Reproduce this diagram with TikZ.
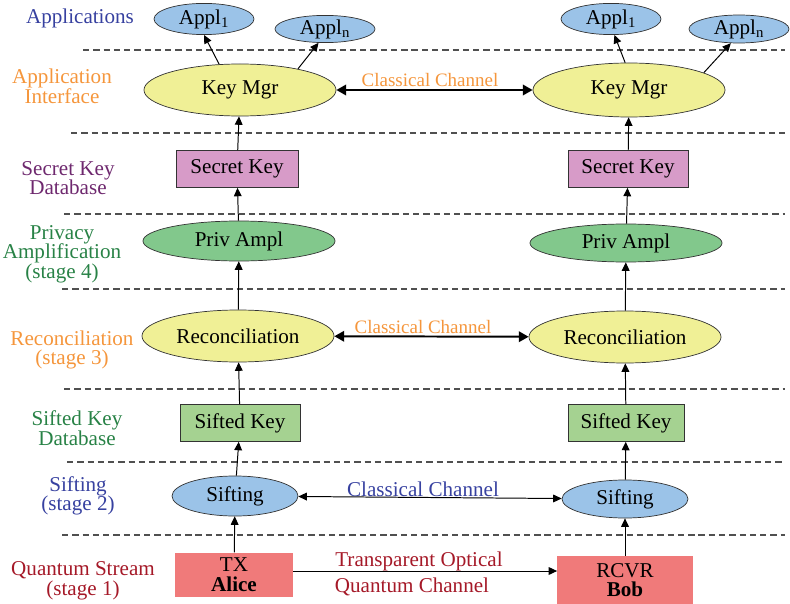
\documentclass[tikz,border=0pt]{standalone}
\usepackage{fontspec}
\setmainfont{Liberation Serif}
\usetikzlibrary{shapes.geometric,arrows.meta}
\definecolor{applfill}{RGB}{155,195,232}
\definecolor{mgrfill}{RGB}{240,240,150}
\definecolor{privfill}{RGB}{130,200,140}
\definecolor{secfill}{RGB}{215,155,200}
\definecolor{siftkfill}{RGB}{165,210,145}
\definecolor{qfill}{RGB}{240,122,122}
\definecolor{txtblue}{RGB}{55,65,160}
\definecolor{txtorange}{RGB}{245,150,60}
\definecolor{txtpurple}{RGB}{110,40,110}
\definecolor{txtgreen}{RGB}{40,130,70}
\definecolor{txtred}{RGB}{165,25,40}
\definecolor{sepgray}{RGB}{80,80,80}

\begin{document}
\begin{tikzpicture}[
  x=0.025cm, y=-0.025cm,
  every node/.style={font=\rmfamily\fontsize{15}{14}\selectfont},
  %% Node styles
  ellnode/.style={
    ellipse, draw=black!80, line width=0.5pt, inner sep=0pt,
  },
  applnode/.style={ellnode, fill=applfill, minimum width=2.5cm, minimum height=0.78cm},
  mgrnode/.style={ellnode, fill=mgrfill, minimum width=4.8cm, minimum height=1.3cm},
  privnode/.style={ellnode, fill=privfill, minimum width=4.8cm, minimum height=1.0cm},
  siftnode/.style={ellnode, fill=applfill, minimum width=3.15cm, minimum height=1.0cm},
  dbnode/.style={
    rectangle, draw=black!80, line width=0.6pt,
    minimum width=3.0cm, minimum height=0.92cm,
  },
  qnode/.style={
    rectangle, fill=qfill, align=center, inner sep=0pt,
    minimum width=2.95cm, minimum height=1.12cm,
  },
  %% Edge styles
  uparrow/.style={draw=black, line width=0.7pt, -{Triangle[length=6pt,width=5.5pt]}},
  chthick/.style={draw=black, line width=1.4pt,
    {Triangle[length=7pt,width=7.5pt]}-{Triangle[length=7pt,width=7.5pt]}},
  chthin/.style={draw=black, line width=0.7pt,
    {Triangle[length=6pt,width=5.5pt]}-{Triangle[length=6pt,width=5.5pt]}},
  sepline/.style={draw=sepgray, line width=0.8pt, dash pattern=on 4.5pt off 2.8pt},
  %% Label style
  lane/.style={align=center},
]
\useasboundingbox (0,0) rectangle (790,604);

%% =============================================================
%%  Layer separators
%% =============================================================
\draw[sepline] (83,50)  -- (785,50);
\draw[sepline] (71,133) -- (785,133);
\draw[sepline] (64,214) -- (785,214);
\draw[sepline] (62,289) -- (785,289);
\draw[sepline] (64,389) -- (785,389);
\draw[sepline] (67,462) -- (785,462);
\draw[sepline] (62,535) -- (785,535);

%% =============================================================
%%  Layer names
%% =============================================================
\node[lane, text=txtblue]   (lApp)  at (80,18)  {Applications};
\node[lane, text=txtorange] (lIf)   at (62,86)  {Application\\Interface};
\node[lane, text=txtpurple] (lSec)  at (68,178) {Secret Key\\Database};
\node[lane, text=txtgreen]  (lPriv) at (62,254) {Privacy\\Amplification\\(stage 4)};
\node[lane, text=txtorange] (lRec)  at (72,350) {Reconciliation\\(stage 3)};
\node[lane, text=txtgreen]  (lSk)   at (77,428) {Sifted Key\\Database};
\node[lane, text=txtblue]   (lSift) at (78,496) {Sifting\\(stage 2)};
\node[lane, text=txtred]    (lQs)   at (83,581) {Quantum Stream\\(stage 1)};

%% =============================================================
%%  LEFT COLUMN  —  Alice
%% =============================================================
\node[applnode] (applA1) at (204,19) {Appl\textsubscript{1}};
\node[applnode, minimum height=0.68cm] (applAn) at (325,29) {Appl\textsubscript{n}};
\node[mgrnode]  (mgrA)   at (240,90)  {Key Mgr};
\node[dbnode, fill=secfill, minimum width=3.05cm] (secA) at (237,169) {Secret Key};
\node[privnode] (privA)  at (239,241) {Priv Ampl};
\node[mgrnode]  (recA)   at (238,336) {Reconciliation};
\node[dbnode, fill=siftkfill] (siftkA) at (240,423) {Sifted Key};
\node[siftnode] (siftA)  at (235,496) {Sifting};
\node[qnode]    (txA)    at (234,575) {TX\\\textbf{Alice}};

\draw[uparrow] (mgrA.129) -- (applA1.south);
\draw[uparrow] (mgrA.20)  -- (applAn.245);
\draw[uparrow] (secA)   -- (mgrA);
\draw[uparrow] (privA)  -- (secA);
\draw[uparrow] (recA)   -- (privA);
\draw[uparrow] (siftkA) -- (recA);
\draw[uparrow] (siftA)  -- (siftkA);
\draw[uparrow] (txA)    -- (siftA);

%% =============================================================
%%  RIGHT COLUMN  —  Bob
%% =============================================================
\node[applnode] (applB1) at (611,19) {Appl\textsubscript{1}};
\node[applnode, minimum height=0.7cm] (applBn) at (739,29) {Appl\textsubscript{n}};
\node[mgrnode, minimum height=1.35cm] (mgrB) at (629,90) {Key Mgr};
\node[dbnode, fill=secfill] (secB) at (628,169) {Secret Key};
\node[privnode, minimum height=0.95cm] (privB) at (626,243) {Priv Ampl};
\node[mgrnode]  (recB)   at (625,337) {Reconciliation};
\node[dbnode, fill=siftkfill, minimum width=2.9cm] (siftkB) at (626,423) {Sifted Key};
\node[siftnode, minimum height=0.95cm] (siftB) at (625,499) {Sifting};
\node[qnode, minimum width=3.38cm, minimum height=1.18cm] (rxB) at (625,580) {RCVR\\\textbf{Bob}};

\draw[uparrow] (mgrB.98)  -- (applB1.282);
\draw[uparrow] (mgrB.13)  -- (applBn.240);
\draw[uparrow] (secB)   -- (mgrB);
\draw[uparrow] (privB)  -- (secB);
\draw[uparrow] (recB)   -- (privB);
\draw[uparrow] (siftkB) -- (recB);
\draw[uparrow] (siftB)  -- (siftkB);
\draw[uparrow] (rxB)    -- (siftB);

%% =============================================================
%%  Channels between the two sides
%% =============================================================
\draw[chthick] (mgrA) -- (mgrB);
\node[text=txtorange, font=\rmfamily\fontsize{13.5}{13}\selectfont] (chTop) at (430,80) {Classical Channel};

\draw[chthick] (recA) -- (recB);
\node[text=txtorange, font=\rmfamily\fontsize{13.5}{13}\selectfont] (chMid) at (423,327) {Classical Channel};

\draw[chthin] (siftA) -- (siftB);
\node[text=txtblue] (chLow) at (423,489) {Classical Channel};

\draw[uparrow] (txA.east |- 0,571) -- (rxB.west |- 0,571);
\node[text=txtred] (qTop) at (419,561) {Transparent Optical};
\node[text=txtred] (qLow) at (412,587) {Quantum Channel};

\end{tikzpicture}
\end{document}
